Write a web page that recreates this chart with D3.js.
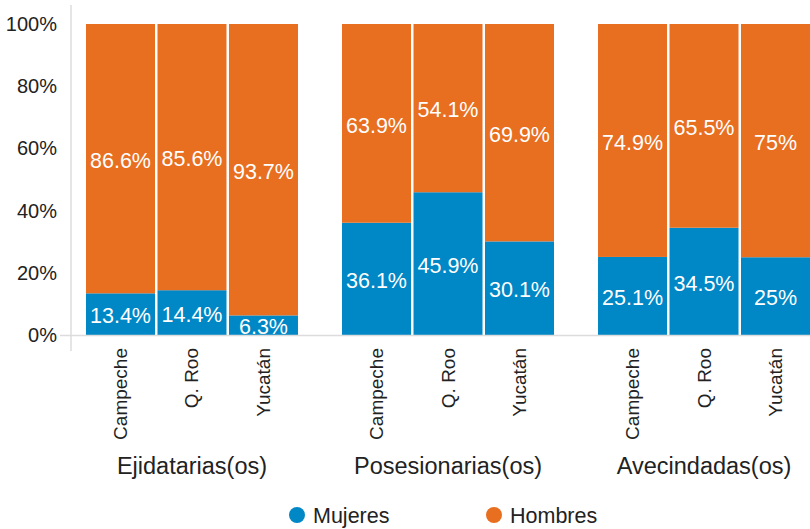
<!DOCTYPE html>
<html>
<head>
<meta charset="utf-8">
<script src="https://cdn.jsdelivr.net/npm/d3@7"></script>
<style>
  html, body { margin: 0; padding: 0; background: #fff; }
  svg { display: block; font-family: "Liberation Sans", Arial, Helvetica, sans-serif; }
</style>
</head>
<body>
<svg id="chart" width="810" height="529"></svg>
<script>
// Tenure groups and states
const groups = ["Ejidatarias(os)", "Posesionarias(os)", "Avecindadas(os)"];
const states = ["Campeche", "Q. Roo", "Yucatán"];

// Share of women and men (%) per group, in the order of `states`
const mujeres = [
  [13.4, 14.4, 6.3],
  [36.1, 45.9, 30.1],
  [25.1, 34.5, 25]
];
const hombres = [
  [86.6, 85.6, 93.7],
  [63.9, 54.1, 69.9],
  [74.9, 65.5, 75]
];

const seriesNames = ["Mujeres", "Hombres"];
const seriesColors = ["#0087c6", "#e86e20"];
const yTicks = [0, 20, 40, 60, 80, 100];

// Flatten into stacked segments
const segments = [];
groups.forEach((g, gi) => {
  states.forEach((s, si) => {
    const m = mujeres[gi][si], h = hombres[gi][si];
    segments.push({ group: g, state: s, series: 0, y0: 0, y1: m, value: m });
    segments.push({ group: g, state: s, series: 1, y0: m, y1: m + h, value: h });
  });
});

const svg = d3.select("#chart");

const x0 = d3.scaleBand().domain(groups).range([86, 810]).paddingInner(0.172).paddingOuter(0);
const x1 = d3.scaleBand().domain(states).range([0, x0.bandwidth()]).paddingInner(0.035).paddingOuter(0);
const y = d3.scaleLinear().domain([0, 100]).range([335, 24]);
const color = d3.scaleOrdinal().domain([0, 1]).range(seriesColors);

// Axis lines
svg.append("line")
  .attr("x1", 71).attr("x2", 71).attr("y1", 5).attr("y2", 351)
  .attr("stroke", "#dcdcdc").attr("stroke-width", 1.5);

// Y tick labels
const yAxis = d3.axisLeft(y).tickValues(yTicks).tickFormat(d => d + "%").tickSize(0).tickPadding(0);
const yg = svg.append("g").attr("transform", "translate(57,0)").call(yAxis);
yg.select(".domain").remove();
yg.selectAll("text")
  .attr("font-size", 20).attr("fill", "#222")
  .attr("font-family", "Liberation Sans, Arial, sans-serif");

// Bars
svg.append("g").selectAll("rect").data(segments).join("rect")
  .attr("x", d => x0(d.group) + x1(d.state))
  .attr("width", x1.bandwidth())
  .attr("y", d => y(d.y1))
  .attr("height", d => y(d.y0) - y(d.y1))
  .attr("fill", d => color(d.series));

// Baseline
svg.append("line")
  .attr("x1", 60).attr("x2", 810).attr("y1", y(0) + 0.5).attr("y2", y(0) + 0.5)
  .attr("stroke", "#dcdcdc").attr("stroke-width", 1.5);

// Value labels, centred in each segment
svg.append("g").selectAll("text").data(segments).join("text")
  .attr("x", d => x0(d.group) + x1(d.state) + x1.bandwidth() / 2)
  .attr("y", d => (y(d.y0) + y(d.y1)) / 2)
  .attr("dy", "0.43em")
  .attr("text-anchor", "middle")
  .attr("font-size", 21.5)
  .attr("fill", "#fff")
  .text(d => d.value + "%");

// State labels (rotated)
const catData = [];
groups.forEach(g => states.forEach(s => catData.push({ group: g, state: s })));
svg.append("g").selectAll("text").data(catData).join("text")
  .attr("transform", d => `translate(${x0(d.group) + x1(d.state) + x1.bandwidth() / 2 + 6.5},348) rotate(-90)`)
  .attr("text-anchor", "end")
  .attr("font-size", 19)
  .attr("fill", "#222")
  .text(d => d.state);

// Group labels
svg.append("g").selectAll("text").data(groups).join("text")
  .attr("x", d => x0(d) + x0.bandwidth() / 2)
  .attr("y", 474)
  .attr("text-anchor", "middle")
  .attr("font-size", 23.5)
  .attr("fill", "#222")
  .text(d => d);

// Legend
const legendX = [297, 494];
const lg = svg.append("g").selectAll("g").data(seriesNames).join("g")
  .attr("transform", (d, i) => `translate(${legendX[i]},515)`);
lg.append("circle").attr("r", 8).attr("fill", (d, i) => seriesColors[i]);
lg.append("text")
  .attr("x", 16).attr("dy", "0.36em")
  .attr("font-size", 21.5).attr("fill", "#222")
  .text(d => d);
</script>
</body>
</html>
